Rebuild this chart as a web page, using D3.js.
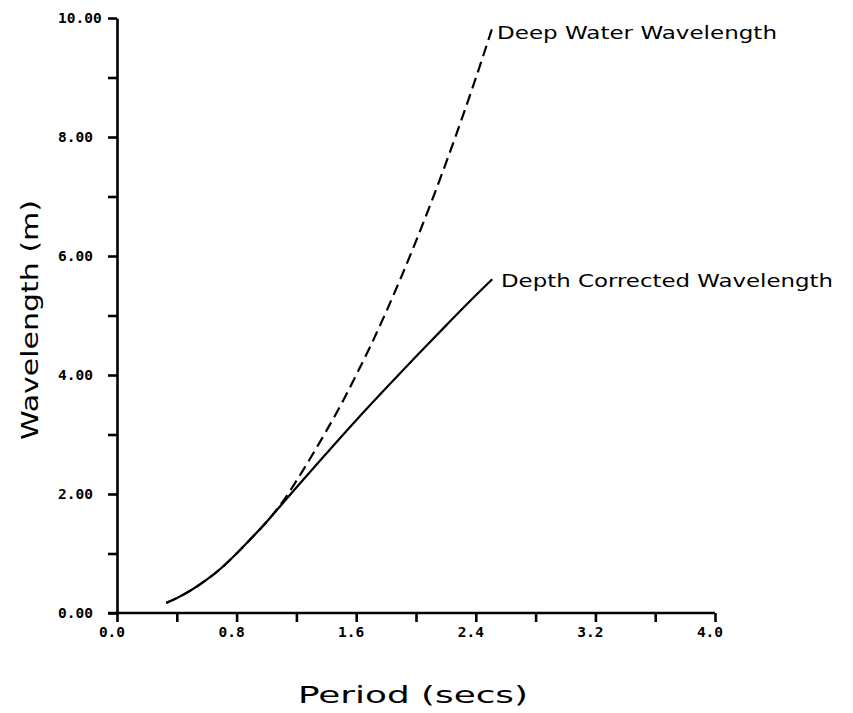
<!DOCTYPE html>
<html>
<head>
<meta charset="utf-8">
<script src="https://cdn.jsdelivr.net/npm/d3@7"></script>
<style>
  body { margin: 0; background: #fff; }
  svg { display: block; }
  .axis path, .axis line { stroke: #000; stroke-width: 2.6; }
  .tick-label { font-family: "DejaVu Sans Mono", monospace; font-weight: bold; font-size: 14.5px; fill: #000; }
  .title { font-family: "DejaVu Sans", sans-serif; font-size: 23px; fill: #000; }
  .note { font-family: "DejaVu Sans", sans-serif; font-size: 18px; fill: #000; }
</style>
</head>
<body>
<svg id="chart" width="853" height="713"></svg>
<script>
// Period (s) vs wavelength (m)
const periodDeep = [0.33, 0.4, 0.5, 0.6, 0.7, 0.8, 0.9, 1.0, 1.1, 1.2, 1.3, 1.4, 1.5, 1.6, 1.7, 1.8, 1.9, 2.0, 2.1, 2.2, 2.3, 2.4, 2.51];
const deepWater  = [0.17, 0.25, 0.39, 0.56, 0.76, 1.00, 1.26, 1.53, 1.84, 2.22, 2.63, 3.06, 3.51, 4.00, 4.51, 5.06, 5.64, 6.25, 6.89, 7.56, 8.26, 8.99, 9.83];

const periodDepth = [0.33, 0.4, 0.5, 0.6, 0.7, 0.8, 0.9, 1.0, 1.1, 1.2, 1.4, 1.6, 1.8, 2.0, 2.2, 2.4, 2.51];
const depthCorr   = [0.17, 0.25, 0.39, 0.56, 0.76, 1.00, 1.26, 1.53, 1.82, 2.11, 2.68, 3.24, 3.78, 4.31, 4.83, 5.34, 5.61];

const xTicks = [0.0, 0.4, 0.8, 1.2, 1.6, 2.0, 2.4, 2.8, 3.2, 3.6, 4.0];
const xLabels = [0.0, 0.8, 1.6, 2.4, 3.2, 4.0];
const yTicks = [0, 1, 2, 3, 4, 5, 6, 7, 8, 9, 10];
const yLabels = [0, 2, 4, 6, 8, 10];

const svg = d3.select("#chart");
const x = d3.scaleLinear().domain([0, 4]).range([117, 715]);
const y = d3.scaleLinear().domain([0, 10]).range([613, 18]);

// axes
svg.append("g").attr("class", "axis")
  .attr("transform", "translate(0,613)")
  .call(d3.axisBottom(x).tickValues(xTicks).tickSize(9).tickSizeOuter(0).tickFormat(""))
  .call(g => g.select(".domain").attr("d", `M${x(0) - 9},0H${x(4)}`));

svg.append("g").attr("class", "axis")
  .attr("transform", "translate(117,0)")
  .call(d3.axisLeft(y).tickValues(yTicks).tickSize(9).tickSizeOuter(0).tickFormat(""));

svg.selectAll(".xl").data(xLabels).enter().append("text")
  .attr("class", "tick-label")
  .attr("x", d => x(d) - 5)
  .attr("y", 637)
  .attr("text-anchor", "middle")
  .text(d => d.toFixed(1));

svg.selectAll(".yl").data(yLabels).enter().append("text")
  .attr("class", "tick-label")
  .attr("x", 58)
  .attr("y", d => y(d) + 5)
  .text(d => d.toFixed(2));

// curves
const line = d3.line().x(d => x(d[0])).y(d => y(d[1])).curve(d3.curveMonotoneX);

svg.append("path")
  .datum(d3.zip(periodDeep, deepWater))
  .attr("d", line)
  .attr("fill", "none").attr("stroke", "#000").attr("stroke-width", 2.2)
  .attr("stroke-dasharray", "11,6");

svg.append("path")
  .datum(d3.zip(periodDepth, depthCorr))
  .attr("d", line)
  .attr("fill", "none").attr("stroke", "#000").attr("stroke-width", 2.2);

// curve labels
svg.append("text").attr("class", "note")
  .attr("x", 497).attr("y", 39)
  .attr("textLength", 280).attr("lengthAdjust", "spacingAndGlyphs")
  .text("Deep Water Wavelength");

svg.append("text").attr("class", "note")
  .attr("x", 501).attr("y", 287)
  .attr("textLength", 332).attr("lengthAdjust", "spacingAndGlyphs")
  .text("Depth Corrected Wavelength");

// axis titles
svg.append("text").attr("class", "title")
  .attr("x", 298).attr("y", 703)
  .attr("textLength", 230).attr("lengthAdjust", "spacingAndGlyphs")
  .text("Period (secs)");

svg.append("text").attr("class", "title")
  .attr("transform", "translate(38,440) rotate(-90)")
  .attr("textLength", 240).attr("lengthAdjust", "spacingAndGlyphs")
  .text("Wavelength (m)");
</script>
</body>
</html>
